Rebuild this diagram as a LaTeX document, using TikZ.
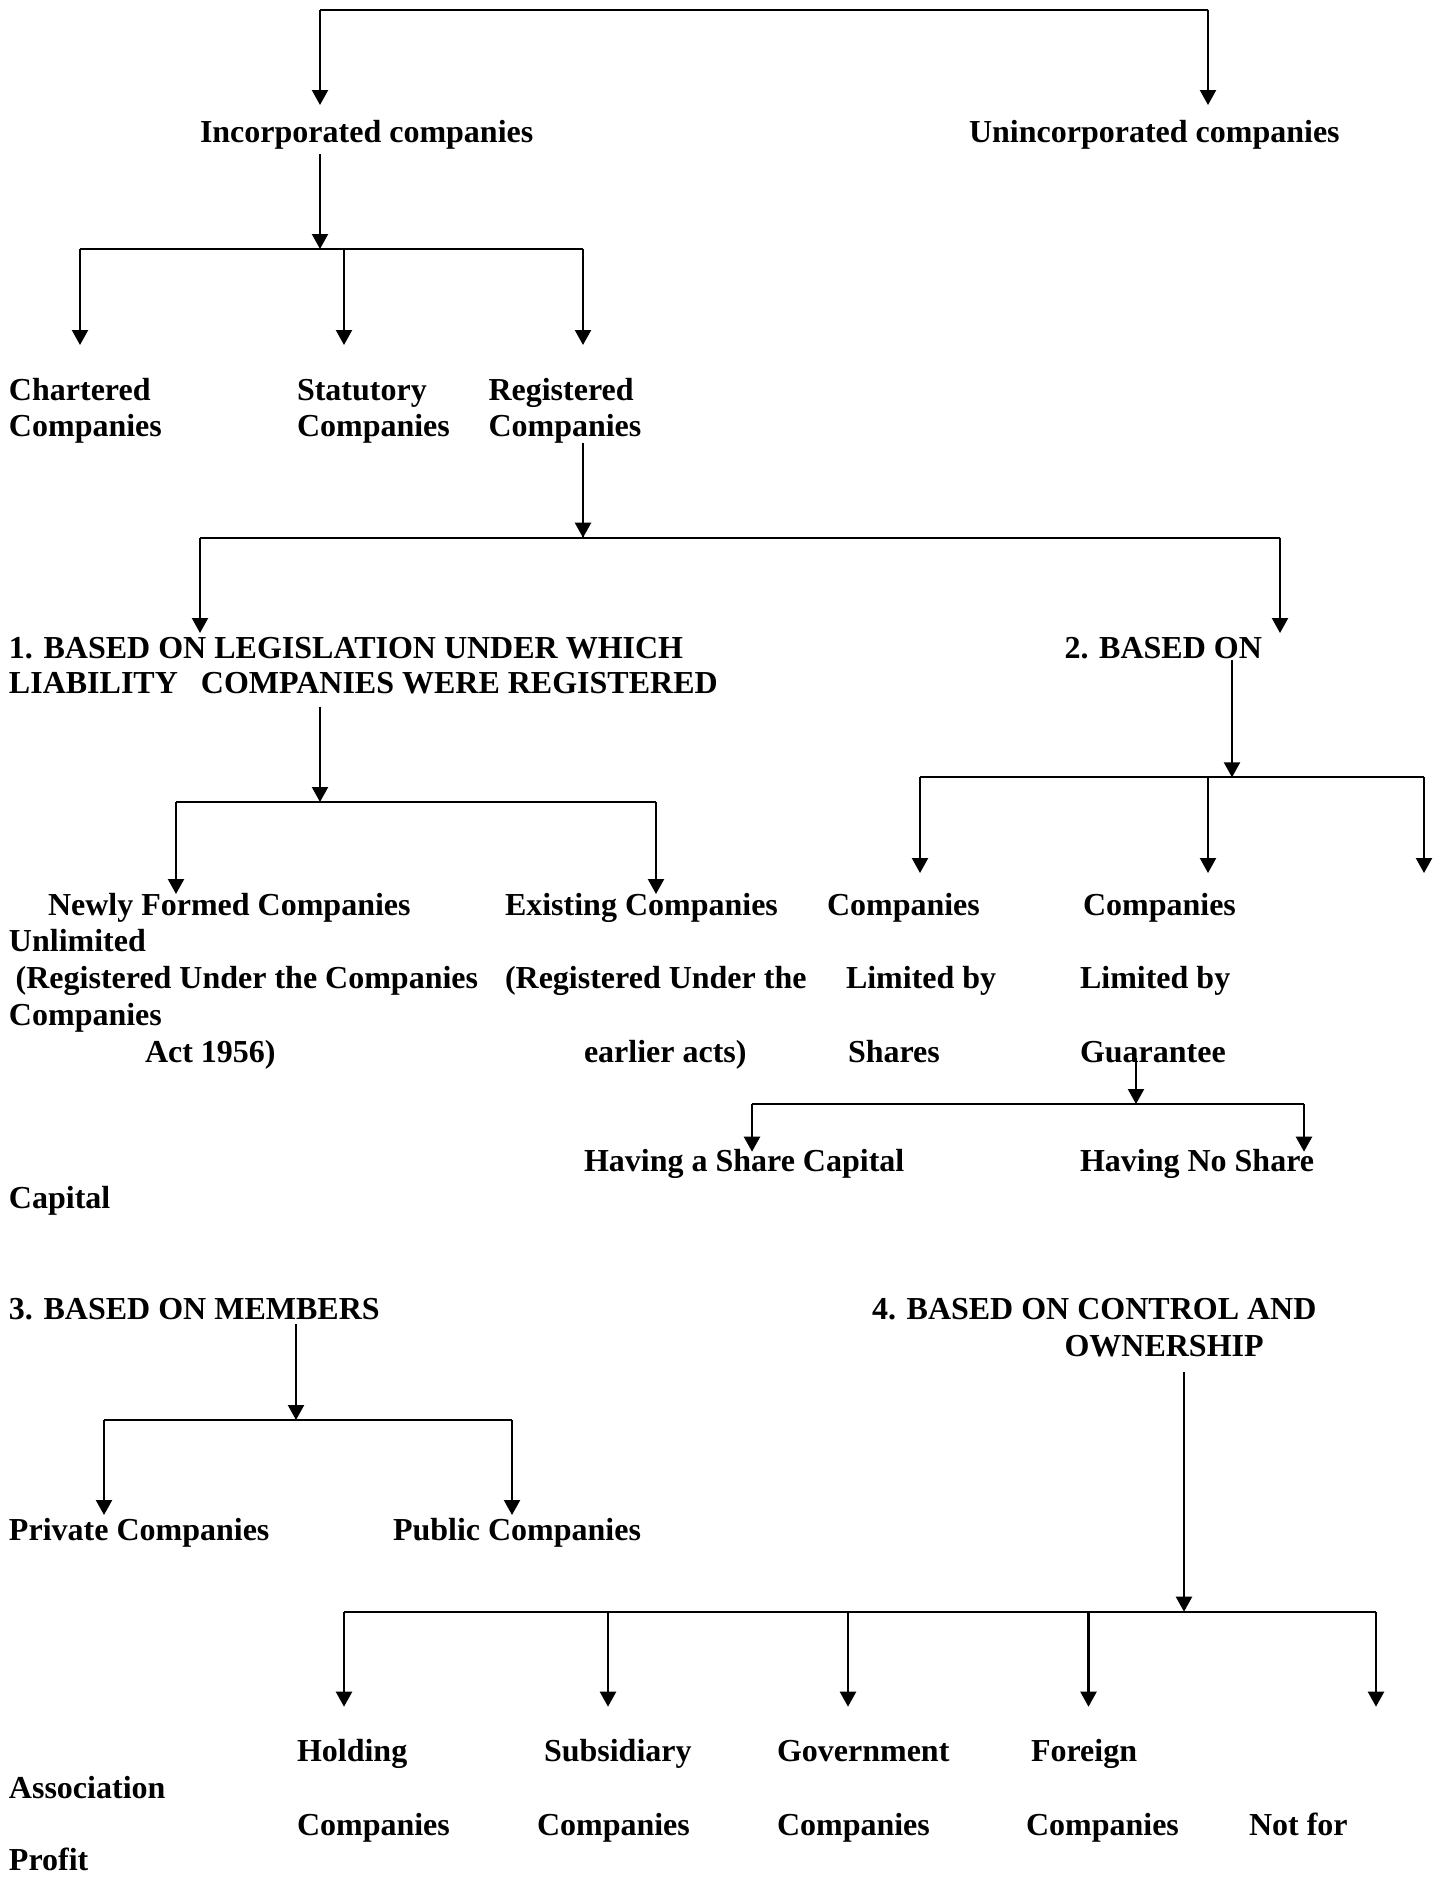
\documentclass[tikz,border=0pt]{standalone}
\usepackage{fontspec}
\setmainfont{Liberation Serif}
\usetikzlibrary{arrows.meta}
\tikzset{
  lbl/.style={anchor=base west, inner sep=0pt, outer sep=0pt, font=\bfseries\fontsize{32}{37}\selectfont},
  conn/.style={line width=2.2pt, line cap=butt},
  arr/.style={conn, -{Triangle[width=16pt,length=15pt]}}
}
\begin{document}
\begin{tikzpicture}[x=1pt,y=-1pt]
\fill[white] (0,0) rectangle (1445,1877);
\useasboundingbox (0,0) rectangle (1445,1877);

% ---------- texts ----------
\node[lbl] (inc) at (200,142.7) {Incorporated companies};
\node[lbl] (uninc) at (969,142.7) {Unincorporated companies};

\node[lbl] (chartA) at (9,400) {Chartered};
\node[lbl] (chartB) at (9,436.7) {Companies};
\node[lbl] (statA) at (297,400) {Statutory};
\node[lbl] (statB) at (297,436.7) {Companies};
\node[lbl] (regA) at (488.5,400) {Registered};
\node[lbl] (regB) at (488.5,436.7) {Companies};

\node[lbl] (bOneA) at (9,658) {1. BASED ON LEGISLATION UNDER WHICH};
\node[lbl] (bOneB) at (9,693) {LIABILITY\hspace{23pt}COMPANIES WERE REGISTERED};
\node[lbl] (bTwo) at (1064.5,658) {2. BASED ON};

\node[lbl] (newA) at (48,915) {Newly Formed Companies};
\node[lbl] (exA) at (505,915) {Existing Companies};
\node[lbl] (shA) at (827,915) {Companies};
\node[lbl] (guA) at (1083,915) {Companies};
\node[lbl] (unl) at (9,951.7) {Unlimited};
\node[lbl] (newB) at (15.7,988.3) {(Registered Under the Companies};
\node[lbl] (exB) at (505,988.3) {(Registered Under the};
\node[lbl] (shB) at (846,988.3) {Limited by};
\node[lbl] (guB) at (1080,988.3) {Limited by};
\node[lbl] (unlB) at (9,1025) {Companies};
\node[lbl] (newC) at (145,1062.7) {Act 1956)};
\node[lbl] (exC) at (584,1062.7) {earlier acts)};
\node[lbl] (shC) at (848,1062.7) {Shares};
\node[lbl] (guC) at (1080,1062.7) {Guarantee};

\node[lbl] (hsc) at (584,1171.7) {Having a Share Capital};
\node[lbl] (hns) at (1080,1171.7) {Having No Share};
\node[lbl] (capl) at (9,1208.3) {Capital};

\node[lbl] (bThree) at (9,1319.3) {3. BASED ON MEMBERS};
\node[lbl] (bFourA) at (872,1319.3) {4. BASED ON CONTROL AND};
\node[lbl] (bFourB) at (1064.5,1356.7) {OWNERSHIP};

\node[lbl] (priv) at (9,1540) {Private Companies};
\node[lbl] (pub) at (393,1540) {Public Companies};

\node[lbl] (holdA) at (297,1761.7) {Holding};
\node[lbl] (subA) at (544,1761.7) {Subsidiary};
\node[lbl] (govA) at (777,1761.7) {Government};
\node[lbl] (forA) at (1031,1761.7) {Foreign};
\node[lbl] (assoc) at (9,1798.3) {Association};
\node[lbl] (holdB) at (297,1835) {Companies};
\node[lbl] (subB) at (537,1835) {Companies};
\node[lbl] (govB) at (777,1835) {Companies};
\node[lbl] (forB) at (1026,1835) {Companies};
\node[lbl] (notfor) at (1249,1835) {Not for};
\node[lbl] (profit) at (9,1870) {Profit};

% ---------- coordinates ----------
\coordinate (tL) at (320,9.6);
\coordinate (tR) at (1208,9.6);
\coordinate (tLe) at (320,105);
\coordinate (tRe) at (1208,105);

\coordinate (incS) at (320,154);
\coordinate (j1) at (320,249);
\coordinate (j1L) at (80,249);
\coordinate (j1M) at (344,249);
\coordinate (j1R) at (583,249);
\coordinate (e1L) at (80,345);
\coordinate (e1M) at (344,345);
\coordinate (e1R) at (583,345);

\coordinate (regS) at (583,443);
\coordinate (j2) at (583,537.7);
\coordinate (j2L) at (200,537.7);
\coordinate (j2R) at (1280,537.7);
\coordinate (e2L) at (200,633);
\coordinate (e2R) at (1280,633);

\coordinate (oneS) at (320,706.7);
\coordinate (j3) at (320,802);
\coordinate (j3L) at (176,802);
\coordinate (j3R) at (656,802);
\coordinate (e3L) at (176,894);
\coordinate (e3R) at (656,894);

\coordinate (twoS) at (1232,660);
\coordinate (j4) at (1232,777.3);
\coordinate (j4L) at (920,777.3);
\coordinate (j4M) at (1208,777.3);
\coordinate (j4R) at (1424,777.3);
\coordinate (e4L) at (920,873);
\coordinate (e4M) at (1208,873);
\coordinate (e4R) at (1424,873);

\coordinate (guS) at (1136,1058);
\coordinate (j5) at (1136,1104);
\coordinate (j5L) at (752,1104);
\coordinate (j5R) at (1304,1104);
\coordinate (e5L) at (752,1151.7);
\coordinate (e5R) at (1304,1151.7);

\coordinate (thrS) at (296,1324);
\coordinate (j6) at (296,1420);
\coordinate (j6L) at (104,1420);
\coordinate (j6R) at (512,1420);
\coordinate (e6L) at (104,1515);
\coordinate (e6R) at (512,1515);

\coordinate (fourS) at (1184,1372);
\coordinate (j7) at (1184,1611.7);
\coordinate (j7a) at (344,1611.7);
\coordinate (j7b) at (608,1611.7);
\coordinate (j7c) at (848,1611.7);
\coordinate (j7d) at (1088.5,1611.7);
\coordinate (j7e) at (1376,1611.7);
\coordinate (e7a) at (344,1706.7);
\coordinate (e7b) at (608,1706.7);
\coordinate (e7c) at (848,1706.7);
\coordinate (e7d) at (1088.5,1706.7);
\coordinate (e7e) at (1376,1706.7);

% ---------- connectors ----------
\draw[conn] (tL) -- (tR);
\draw[arr] (tL) -- (tLe);
\draw[arr] (tR) -- (tRe);

\draw[arr] (incS) -- (j1);
\draw[conn] (j1L) -- (j1R);
\draw[arr] (j1L) -- (e1L);
\draw[arr] (j1M) -- (e1M);
\draw[arr] (j1R) -- (e1R);

\draw[conn] (regS) -- (j2);
\draw[arr] (regS) -- (j2);
\draw[conn] (j2L) -- (j2R);
\draw[arr] (j2L) -- (e2L);
\draw[arr] (j2R) -- (e2R);

\draw[arr] (oneS) -- (j3);
\draw[conn] (j3L) -- (j3R);
\draw[arr] (j3L) -- (e3L);
\draw[arr] (j3R) -- (e3R);

\draw[arr] (twoS) -- (j4);
\draw[conn] (j4L) -- (j4R);
\draw[arr] (j4L) -- (e4L);
\draw[arr] (j4M) -- (e4M);
\draw[arr] (j4R) -- (e4R);

\draw[arr] (guS) -- (j5);
\draw[conn] (j5L) -- (j5R);
\draw[arr] (j5L) -- (e5L);
\draw[arr] (j5R) -- (e5R);

\draw[arr] (thrS) -- (j6);
\draw[conn] (j6L) -- (j6R);
\draw[arr] (j6L) -- (e6L);
\draw[arr] (j6R) -- (e6R);

\draw[arr] (fourS) -- (j7);
\draw[conn] (j7a) -- (j7e);
\draw[arr] (j7a) -- (e7a);
\draw[arr] (j7b) -- (e7b);
\draw[arr] (j7c) -- (e7c);
\draw[arr] (j7d) -- (e7d);
\draw[arr] (j7e) -- (e7e);
\end{tikzpicture}
\end{document}
